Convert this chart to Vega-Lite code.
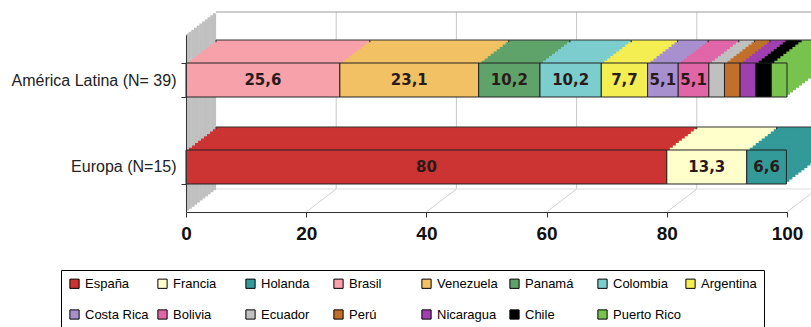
{
  "$schema": "https://vega.github.io/schema/vega-lite/v6.json",
  "width": 601,
  "height": 177,
  "autosize": {"type": "none"},
  "padding": {"left": 186, "top": 35, "right": 24, "bottom": 115},
  "background": "white",
  "data": {"values": [
    {"grupo": "América Latina (N= 39)", "pais": "Brasil", "pct": 25.6, "i": 4},
    {"grupo": "América Latina (N= 39)", "pais": "Venezuela", "pct": 23.1, "i": 5},
    {"grupo": "América Latina (N= 39)", "pais": "Panamá", "pct": 10.2, "i": 6},
    {"grupo": "América Latina (N= 39)", "pais": "Colombia", "pct": 10.2, "i": 7},
    {"grupo": "América Latina (N= 39)", "pais": "Argentina", "pct": 7.7, "i": 8},
    {"grupo": "América Latina (N= 39)", "pais": "Costa Rica", "pct": 5.1, "i": 9},
    {"grupo": "América Latina (N= 39)", "pais": "Bolivia", "pct": 5.1, "i": 10},
    {"grupo": "América Latina (N= 39)", "pais": "Ecuador", "pct": 2.6, "i": 11},
    {"grupo": "América Latina (N= 39)", "pais": "Perú", "pct": 2.6, "i": 12},
    {"grupo": "América Latina (N= 39)", "pais": "Nicaragua", "pct": 2.6, "i": 13},
    {"grupo": "América Latina (N= 39)", "pais": "Chile", "pct": 2.6, "i": 14},
    {"grupo": "América Latina (N= 39)", "pais": "Puerto Rico", "pct": 2.6, "i": 15},
    {"grupo": "Europa (N=15)", "pais": "España", "pct": 80, "i": 1},
    {"grupo": "Europa (N=15)", "pais": "Francia", "pct": 13.3, "i": 2},
    {"grupo": "Europa (N=15)", "pais": "Holanda", "pct": 6.6, "i": 3}
  ]},
  "config": {
    "view": {"stroke": null},
    "font": "Liberation Sans",
    "locale": {"number": {"decimal": ",", "thousands": ".", "grouping": [3], "currency": ["", "€"]}}
  },
  "resolve": {"scale": {"y": "independent"}, "axis": {"x": "independent", "y": "independent"}},
  "layer": [
    {
      "transform": [{"aggregate": [{"op": "count", "as": "n"}]}],
      "encoding": {
        "y": {"datum": 0, "type": "quantitative", "scale": {"domain": [0, 1], "nice": false, "zero": false}, "axis": null, "title": null},
        "y2": {"datum": 1}
      },
      "layer": [
        {"mark": {"type": "rule", "color": "#c0c0c0", "strokeWidth": 3.2, "xOffset": 1.5, "yOffset": -1.15, "y2Offset": -1.15}, "encoding": {"x": {"datum": 0, "type": "quantitative", "axis": null, "title": null}}},
        {"mark": {"type": "rule", "color": "#c0c0c0", "strokeWidth": 3.2, "xOffset": 4.2, "yOffset": -3.22, "y2Offset": -3.22}, "encoding": {"x": {"datum": 0, "type": "quantitative", "axis": null, "title": null}}},
        {"mark": {"type": "rule", "color": "#c0c0c0", "strokeWidth": 3.2, "xOffset": 6.9, "yOffset": -5.29, "y2Offset": -5.29}, "encoding": {"x": {"datum": 0, "type": "quantitative", "axis": null, "title": null}}},
        {"mark": {"type": "rule", "color": "#c0c0c0", "strokeWidth": 3.2, "xOffset": 9.6, "yOffset": -7.36, "y2Offset": -7.36}, "encoding": {"x": {"datum": 0, "type": "quantitative", "axis": null, "title": null}}},
        {"mark": {"type": "rule", "color": "#c0c0c0", "strokeWidth": 3.2, "xOffset": 12.3, "yOffset": -9.43, "y2Offset": -9.43}, "encoding": {"x": {"datum": 0, "type": "quantitative", "axis": null, "title": null}}},
        {"mark": {"type": "rule", "color": "#c0c0c0", "strokeWidth": 3.2, "xOffset": 15.0, "yOffset": -11.5, "y2Offset": -11.5}, "encoding": {"x": {"datum": 0, "type": "quantitative", "axis": null, "title": null}}},
        {"mark": {"type": "rule", "color": "#c0c0c0", "strokeWidth": 3.2, "xOffset": 17.7, "yOffset": -13.57, "y2Offset": -13.57}, "encoding": {"x": {"datum": 0, "type": "quantitative", "axis": null, "title": null}}},
        {"mark": {"type": "rule", "color": "#c0c0c0", "strokeWidth": 3.2, "xOffset": 20.4, "yOffset": -15.64, "y2Offset": -15.64}, "encoding": {"x": {"datum": 0, "type": "quantitative", "axis": null, "title": null}}},
        {"mark": {"type": "rule", "color": "#c0c0c0", "strokeWidth": 3.2, "xOffset": 23.1, "yOffset": -17.71, "y2Offset": -17.71}, "encoding": {"x": {"datum": 0, "type": "quantitative", "axis": null, "title": null}}},
        {"mark": {"type": "rule", "color": "#c0c0c0", "strokeWidth": 3.2, "xOffset": 25.8, "yOffset": -19.78, "y2Offset": -19.78}, "encoding": {"x": {"datum": 0, "type": "quantitative", "axis": null, "title": null}}},
        {"mark": {"type": "rule", "color": "#c0c0c0", "strokeWidth": 3.2, "xOffset": 28.5, "yOffset": -21.85, "y2Offset": -21.85}, "encoding": {"x": {"datum": 0, "type": "quantitative", "axis": null, "title": null}}},
        {"mark": {"type": "rule", "color": "#c8c8c8", "strokeWidth": 1, "xOffset": 30, "yOffset": -23, "y2Offset": -23}, "encoding": {"x": {"datum": 20, "type": "quantitative", "axis": null, "title": null}}},
        {"mark": {"type": "rule", "color": "#c8c8c8", "strokeWidth": 1, "xOffset": 30, "yOffset": -23, "y2Offset": -23}, "encoding": {"x": {"datum": 40, "type": "quantitative", "axis": null, "title": null}}},
        {"mark": {"type": "rule", "color": "#c8c8c8", "strokeWidth": 1, "xOffset": 30, "yOffset": -23, "y2Offset": -23}, "encoding": {"x": {"datum": 60, "type": "quantitative", "axis": null, "title": null}}},
        {"mark": {"type": "rule", "color": "#c8c8c8", "strokeWidth": 1, "xOffset": 30, "yOffset": -23, "y2Offset": -23}, "encoding": {"x": {"datum": 80, "type": "quantitative", "axis": null, "title": null}}},
        {"mark": {"type": "rule", "color": "#c8c8c8", "strokeWidth": 1, "xOffset": 30, "yOffset": -23, "y2Offset": -23}, "encoding": {"x": {"datum": 100, "type": "quantitative", "axis": null, "title": null}}},
        {"mark": {"type": "rule", "color": "#999999", "strokeWidth": 1, "xOffset": 30, "x2Offset": 60, "yOffset": -23, "y2Offset": -23}, "encoding": {"x": {"datum": 0, "type": "quantitative", "axis": null, "title": null}, "x2": {"datum": 100}, "y": {"datum": 1, "type": "quantitative"}, "y2": {"datum": 1}}},
        {"mark": {"type": "rule", "color": "#dddddd", "strokeWidth": 1, "xOffset": 30, "x2Offset": 30, "yOffset": -23, "y2Offset": -23}, "encoding": {"x": {"datum": 0, "type": "quantitative", "axis": null, "title": null}, "x2": {"datum": 100}, "y": {"datum": 0, "type": "quantitative"}, "y2": {"datum": 0}}},
        {"mark": {"type": "rule", "color": "#d0d0d0", "strokeWidth": 1, "x2Offset": 30, "y2Offset": -23}, "encoding": {"x": {"datum": 20, "type": "quantitative", "axis": null, "title": null}, "x2": {"datum": 20}, "y": {"datum": 0, "type": "quantitative"}, "y2": {"datum": 0}}},
        {"mark": {"type": "rule", "color": "#d0d0d0", "strokeWidth": 1, "x2Offset": 30, "y2Offset": -23}, "encoding": {"x": {"datum": 40, "type": "quantitative", "axis": null, "title": null}, "x2": {"datum": 40}, "y": {"datum": 0, "type": "quantitative"}, "y2": {"datum": 0}}},
        {"mark": {"type": "rule", "color": "#d0d0d0", "strokeWidth": 1, "x2Offset": 30, "y2Offset": -23}, "encoding": {"x": {"datum": 60, "type": "quantitative", "axis": null, "title": null}, "x2": {"datum": 60}, "y": {"datum": 0, "type": "quantitative"}, "y2": {"datum": 0}}},
        {"mark": {"type": "rule", "color": "#d0d0d0", "strokeWidth": 1, "x2Offset": 30, "y2Offset": -23}, "encoding": {"x": {"datum": 80, "type": "quantitative", "axis": null, "title": null}, "x2": {"datum": 80}, "y": {"datum": 0, "type": "quantitative"}, "y2": {"datum": 0}}},
        {"mark": {"type": "rule", "color": "#d0d0d0", "strokeWidth": 1, "x2Offset": 30, "y2Offset": -23}, "encoding": {"x": {"datum": 100, "type": "quantitative", "axis": null, "title": null}, "x2": {"datum": 100}, "y": {"datum": 0, "type": "quantitative"}, "y2": {"datum": 0}}}
      ]
    },
    {
      "encoding": {
        "y": {
          "field": "grupo", "type": "nominal", "title": null,
          "sort": ["América Latina (N= 39)", "Europa (N=15)"],
          "scale": {"paddingInner": 0.609, "paddingOuter": 0.322},
          "axis": {"zindex": 1, "tickBand": "extent", "tickSize": 5, "tickColor": "#333", "domainColor": "#333", "labelFont": "Liberation Sans", "labelFontSize": 16, "labelColor": "#222", "labelPadding": 5, "labelLimit": 300}
        },
        "x": {
          "field": "pct", "type": "quantitative", "stack": "zero", "title": null,
          "scale": {"domain": [0, 100], "nice": false},
          "axis": {"zindex": 1, "values": [0, 20, 40, 60, 80, 100], "grid": false, "tickSize": 5, "tickColor": "#333", "domainColor": "#333", "labelFont": "Liberation Sans", "labelFontWeight": "bold", "labelFontSize": 19, "labelColor": "#111", "labelPadding": 7, "labelFlush": false}
        },
        "color": {
          "field": "pais", "type": "nominal",
          "scale": {
            "domain": ["España", "Francia", "Holanda", "Brasil", "Venezuela", "Panamá", "Colombia", "Argentina", "Costa Rica", "Bolivia", "Ecuador", "Perú", "Nicaragua", "Chile", "Puerto Rico"],
            "range": ["#cc3333", "#ffffcc", "#339999", "#f7a1aa", "#f2c163", "#5fa36a", "#7ccdcd", "#f5ee52", "#a890cf", "#e066a8", "#c0c0c0", "#c0702a", "#a040b0", "#000000", "#77c34e"]
          },
          "legend": {"title": null, "orient": "none", "legendX": -125, "legendY": 235, "direction": "horizontal", "columns": 8, "gridAlign": "all", "symbolType": "square", "symbolSize": 85, "symbolStrokeColor": "#000", "symbolStrokeWidth": 1, "symbolOpacity": 1, "labelFont": "Liberation Sans", "labelFontSize": 13, "labelColor": "#000", "labelOffset": 4, "columnPadding": 2, "rowPadding": 16, "strokeColor": "#000", "padding": 7, "labelLimit": 200}
        },
        "order": {"field": "i", "type": "quantitative"}
      },
      "layer": [
        {"mark": {"type": "bar", "stroke": "#333", "strokeWidth": 1, "xOffset": 30, "x2Offset": 30, "yOffset": -23, "y2Offset": -23}},
        {"mark": {"type": "bar", "xOffset": 27, "x2Offset": 27, "yOffset": -20.7, "y2Offset": -20.7}},
        {"mark": {"type": "bar", "xOffset": 24, "x2Offset": 24, "yOffset": -18.4, "y2Offset": -18.4}},
        {"mark": {"type": "bar", "xOffset": 21, "x2Offset": 21, "yOffset": -16.1, "y2Offset": -16.1}},
        {"mark": {"type": "bar", "xOffset": 18, "x2Offset": 18, "yOffset": -13.8, "y2Offset": -13.8}},
        {"mark": {"type": "bar", "xOffset": 15, "x2Offset": 15, "yOffset": -11.5, "y2Offset": -11.5}},
        {"mark": {"type": "bar", "xOffset": 12, "x2Offset": 12, "yOffset": -9.2, "y2Offset": -9.2}},
        {"mark": {"type": "bar", "xOffset": 9, "x2Offset": 9, "yOffset": -6.9, "y2Offset": -6.9}},
        {"mark": {"type": "bar", "xOffset": 6, "x2Offset": 6, "yOffset": -4.6, "y2Offset": -4.6}},
        {"mark": {"type": "bar", "xOffset": 3, "x2Offset": 3, "yOffset": -2.3, "y2Offset": -2.3}},
        {"mark": {"type": "bar", "stroke": "#222", "strokeWidth": 1}},
        {
          "mark": {"type": "text", "font": "DejaVu Sans", "fontWeight": "bold", "fontSize": 15, "color": "#2a1a1a"},
          "encoding": {
            "x": {"field": "pct", "type": "quantitative", "stack": "zero", "bandPosition": 0.5},
            "text": {"condition": {"test": "datum.pct < 5", "value": ""}, "field": "pct", "type": "quantitative", "format": ".1~f"},
            "color": {"value": "#2a1a1a"}
          }
        }
      ]
    }
  ]
}
